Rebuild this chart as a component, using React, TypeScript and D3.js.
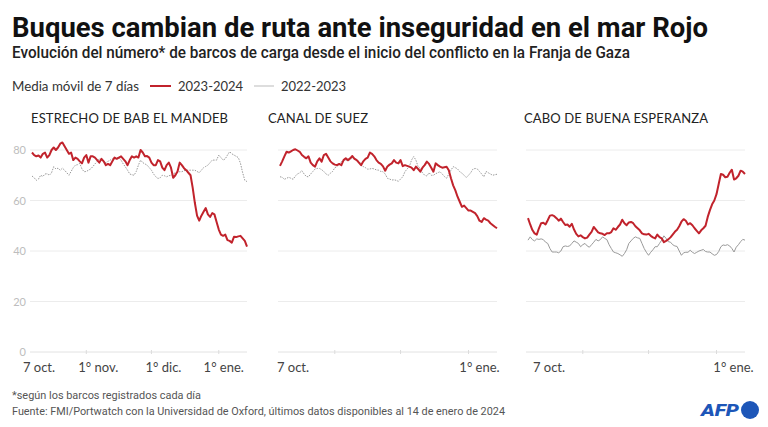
import React from 'react';
import * as d3 from 'd3';

// 7-day moving average of cargo ships per day, 7 Oct 2023 -> 14 Jan 2024
const days = d3.timeDay.range(new Date(2023, 9, 7), new Date(2024, 0, 15));

const bab2324 = [
  79, 78, 77.5, 77.8, 77, 78.5, 79, 77, 78, 80,
  81, 80, 81, 82.5, 83, 81.5, 80, 78.5, 79, 76,
  77, 76.5, 75.5, 74.7, 77, 78, 75, 77.5, 77.5, 77,
  76, 75, 76.5, 75.5, 74, 74.5, 74, 75.5, 77, 76.5,
  77, 77.5, 76.5, 75.5, 74, 76, 77.5, 77, 77.5, 77,
  80, 79, 77.5, 77.6, 77, 75, 74, 74, 76, 75.5,
  73, 72, 74, 75, 73, 69, 70, 71.5, 75, 74,
  72.8, 72, 71, 70, 65, 59, 54, 52, 54, 55.5,
  57, 54.5, 53.5, 55, 54.5, 51.5, 48.5, 46.5, 46, 46.5,
  44.3, 44, 43.3, 45.6, 45.5, 45.8, 46, 45, 44, 41.7,
];
const bab2223 = [
  69.7, 69, 68, 68.5, 70, 69.5, 70.5, 70.6, 70, 71,
  73.4, 72.5, 72.8, 72, 72.8, 72, 71, 70, 71.5, 73,
  74, 74.2, 74.7, 72.5, 71.4, 71.5, 72, 72.5, 73.4, 74.5,
  75.4, 76.5, 76, 75.5, 75, 75.5, 76, 76.5, 76.5, 77,
  77, 76, 74.5, 73.3, 72, 70.5, 70.2, 70, 71.5, 74,
  76, 75, 74.5, 74, 73, 72, 70.5, 69.4, 68.7, 69,
  70, 69.8, 69.4, 69.8, 70, 70.5, 71, 71.2, 71.4, 71.4,
  71.8, 72, 72, 72, 72, 72, 71.5, 71, 72, 73,
  73.5, 74, 75, 76, 76, 76, 78, 77, 76, 76.5,
  78, 79.3, 78.5, 78, 77.5, 77, 74.7, 71, 68, 67.5,
];
const suez2324 = [
  73.7, 75.5, 77.5, 79.3, 79, 79.5, 80, 80.3, 79.8, 79.3,
  78, 77.3, 76.7, 77.5, 75, 74, 73.4, 75.5, 76.7, 75.4,
  78, 78.5, 77, 75.5, 74.7, 74.2, 74, 74.5, 74, 76,
  76.7, 76, 76.7, 77.6, 76.5, 76, 75, 74, 75.5, 76.5,
  77, 79, 78.5, 77.5, 76, 75, 74.5, 73.5, 71.8, 73.5,
  74.2, 74.7, 76, 75, 74.7, 76, 73.6, 74, 73.7, 73.4,
  73, 72, 73.4, 72.5, 71.4, 73, 74, 75.4, 74.5, 73,
  71.4, 74.7, 74, 73.4, 73, 73.2, 73.4, 72, 68.8, 66,
  64, 61.5, 59.5, 57.5, 58, 57, 56, 56, 55.5, 55,
  53.8, 52, 51.5, 53, 52.4, 52, 51, 50.3, 49.6, 49,
];
const suez2223 = [
  69.4, 69.2, 68.4, 68.8, 69.2, 68.8, 68.4, 69.7, 70.5, 71,
  71.8, 70.5, 69.5, 69.4, 70.5, 71.5, 72.5, 72.7, 72.7, 72.2,
  71.5, 70.5, 70, 70.8, 71.5, 73, 73.4, 74.5, 75.4, 75.8,
  76, 76, 76, 77, 76.7, 76.3, 75.4, 74.5, 73.4, 73,
  72.4, 72.5, 72.7, 72.5, 72.1, 72, 71.5, 71.4, 70.5, 68.8,
  68.5, 68.1, 68.2, 68, 67.6, 68.5, 69.4, 71.4, 72.5, 73.4,
  76, 77.4, 76, 73.4, 72.7, 71, 70, 69.7, 71, 70,
  70, 70.6, 71, 71.4, 70.5, 69.5, 68.8, 70.5, 72, 73.4,
  73, 72.5, 71.4, 70.8, 70, 69.1, 70, 71, 72.4, 72.7,
  72.5, 71.5, 70.5, 69.4, 71.5, 71, 70.5, 70, 70.2, 70.4,
];
const cabo2324 = [
  53, 50.5, 48.3, 47, 46.5, 49, 51, 51.2, 50.5, 52.2,
  54, 54.2, 53.8, 53, 52, 52.8, 51.5, 50.3, 50.5, 49.6,
  50.8, 48.5, 46.8, 45.8, 46.2, 45.5, 45, 45.3, 46.5, 47.6,
  49.5, 48.5, 47.4, 47, 46.8, 46.3, 47, 47, 47.5, 49,
  48.4, 49.5, 50.5, 52.4, 51, 50.2, 51.3, 51.5, 51, 49.8,
  49, 48.2, 47, 46.6, 46.5, 46.8, 46, 45.4, 45, 46.5,
  45.5, 45, 43.5, 44, 44.6, 45.4, 46.5, 47.6, 48.4, 49.8,
  51.6, 52.6, 52, 50.5, 51, 50.2, 49, 48, 47, 48.2,
  49, 50, 53.5, 56.2, 58.5, 60, 62.5, 66.5, 70.5, 70.2,
  69.2, 69.4, 71, 72.2, 68.3, 68.8, 69.8, 71.8, 71.4, 70.5,
];
const cabo2223 = [
  44.3, 45.6, 44.5, 44, 44.8, 44.6, 44.8, 44.5, 43.5, 43,
  41, 39.6, 39.6, 39.6, 39.3, 40, 41.7, 42, 41.8, 42,
  43, 44, 43.5, 43, 41.7, 42.5, 43, 42, 41.5, 42.5,
  43.5, 44.6, 44, 44.5, 45.6, 45, 44.5, 42.5, 41, 39.6,
  39.3, 39, 38.5, 37.9, 39, 40.5, 43, 44, 45, 45.6,
  45.2, 45, 43, 41, 39.5, 38.3, 39.5, 40.5, 41.7, 41.7,
  43, 44.3, 46, 45, 43.7, 43.5, 42.5, 42, 41.8, 40,
  38.3, 39.3, 39.5, 39.5, 40.3, 39.5, 39, 39.5, 40, 40.3,
  40.6, 39.8, 39.6, 39.6, 38.9, 38.3, 38.6, 39.8, 41.7, 42.4,
  42.2, 42.5, 42, 41, 39.6, 41.5, 42.5, 43.7, 44.6, 44.3,
];

const yTicks = [0, 20, 40, 60, 80];
const tickDates = [new Date(2023, 9, 7), new Date(2023, 10, 1), new Date(2023, 11, 1), new Date(2024, 0, 1)];
const tickLabels = ['7 oct.', '1° nov.', '1° dic.', '1° ene.'];

const RED = '#c1232c';
const GREY = '#9a9a9a';
const FONT = 'Lato, "Open Sans", sans-serif';
const HEAD = 'Roboto, "Open Sans", sans-serif';

const panels = [
  { title: 'ESTRECHO DE BAB EL MANDEB', cur: bab2324, prev: bab2223, left: 32, right: 247, titleX: 31, titleW: 197, shown: [0, 1, 2, 3], dx: [7, 12, 12, 5], yAxis: true, dotted: true },
  { title: 'CANAL DE SUEZ', cur: suez2324, prev: suez2223, left: 280, right: 497, titleX: 268, titleW: 100, shown: [0, 3], dx: [13, 0, 0, 11], yAxis: false, dotted: true },
  { title: 'CABO DE BUENA ESPERANZA', cur: cabo2324, prev: cabo2223, left: 528, right: 745, titleX: 524, titleW: 184, shown: [0, 3], dx: [21, 0, 0, 17], yAxis: false, dotted: false },
];

const y = d3.scaleLinear().domain([0, 80]).range([352, 150]);

function Panel({ p }) {
  const x = d3.scaleTime().domain([days[0], days[days.length - 1]]).range([p.left, p.right]);
  const line = d3.line<number>().x((_, i) => x(days[i])).y(d => y(d)).curve(d3.curveLinear);
  return (
    <g>
      <text x={p.titleX} y={123} fontFamily={FONT} fontSize={13} fill="#222" textLength={p.titleW} lengthAdjust="spacing">{p.title}</text>
      {yTicks.map(t => (
        <line key={t} x1={p.left - 2} x2={p.right} y1={y(t)} y2={y(t)} stroke={t === 0 ? '#e2e2e2' : '#ececec'} strokeWidth={1} />
      ))}
      {p.yAxis && yTicks.map(t => (
        <text key={'l' + t} x={26} y={y(t) + 4} textAnchor="end" fontFamily={FONT} fontSize={11} fill="#bdbdbd">{t}</text>
      ))}
      {tickDates.slice(1).map((d, i) => (
        <line key={'t' + i} x1={x(d)} x2={x(d)} y1={y(0) - 2} y2={y(0) + 2} stroke="#dcdcdc" />
      ))}
      {p.shown.map(i => (
        <text key={'x' + i} x={x(tickDates[i]) + p.dx[i]} y={372} textAnchor="middle" fontFamily={FONT} fontSize={13} fill="#444">{tickLabels[i]}</text>
      ))}
      <path d={line(p.prev) || ''} fill="none" stroke={GREY} strokeWidth={1} strokeDasharray={p.dotted ? '1.5,1.2' : undefined} />
      <path d={line(p.cur) || ''} fill="none" stroke={RED} strokeWidth={2} strokeLinejoin="round" />
    </g>
  );
}

export default function App() {
  return (
    <svg width={768} height={427} style={{ position: 'absolute', left: 0, top: 0, background: '#fff' }}>
      <rect x={0} y={0} width={768} height={427} fill="#fff" />
      <text x={12} y={37} fontFamily={HEAD} fontWeight={700} fontSize={28} fill="#111" textLength={696} lengthAdjust="spacingAndGlyphs">Buques cambian de ruta ante inseguridad en el mar Rojo</text>
      <text x={12} y={58} fontFamily={HEAD} fontWeight={500} fontSize={16} fill="#222" textLength={618} lengthAdjust="spacingAndGlyphs">Evolución del número* de barcos de carga desde el inicio del conflicto en la Franja de Gaza</text>

      <text x={12} y={91} fontFamily={FONT} fontSize={13} fill="#333" textLength={127} lengthAdjust="spacingAndGlyphs">Media móvil de 7 días</text>
      <line x1={150} x2={171} y1={86} y2={86} stroke={RED} strokeWidth={2} />
      <text x={178} y={91} fontFamily={FONT} fontSize={13} fill="#333">2023-2024</text>
      <line x1={254} x2={274} y1={86} y2={86} stroke="#bbb" strokeWidth={1} />
      <text x={281} y={91} fontFamily={FONT} fontSize={13} fill="#333">2022-2023</text>

      {panels.map(p => <Panel key={p.title} p={p} />)}

      <text x={12} y={399} fontFamily={HEAD} fontSize={11.5} fill="#555" textLength={189} lengthAdjust="spacingAndGlyphs">*según los barcos registrados cada día</text>
      <text x={12} y={415} fontFamily={HEAD} fontSize={11.5} fill="#555" textLength={493} lengthAdjust="spacingAndGlyphs">Fuente: FMI/Portwatch con la Universidad de Oxford, últimos datos disponibles al 14 de enero de 2024</text>

      <text x={701} y={416} fontFamily={HEAD} fontWeight={900} fontStyle="italic" fontSize={17} fill="#1d56b8" textLength={38} lengthAdjust="spacingAndGlyphs">AFP</text>
      <circle cx={750} cy={410} r={9} fill="#1d56b8" />
    </svg>
  );
}
